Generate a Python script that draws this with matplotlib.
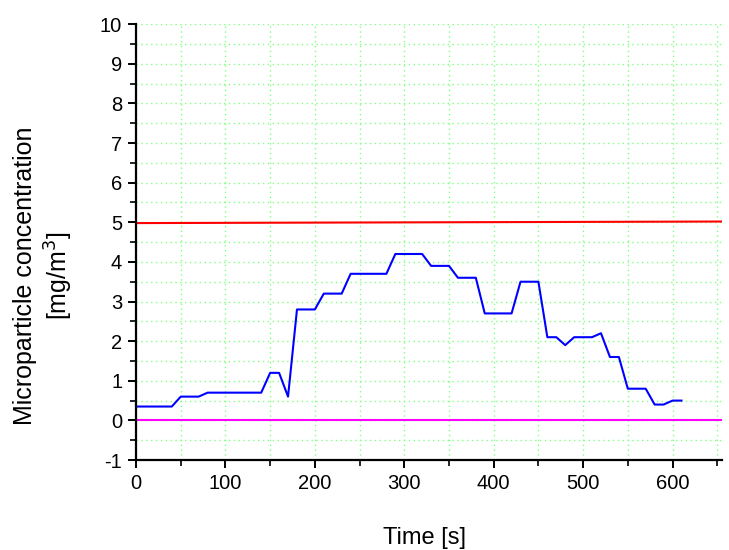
import matplotlib
matplotlib.use("Agg")
import matplotlib.pyplot as plt
from matplotlib.ticker import MultipleLocator

plt.rcParams["font.family"] = ["Liberation Sans", "DejaVu Sans"]
plt.rcParams["axes.unicode_minus"] = False

time_s = [0, 10, 20, 30, 40, 50, 60, 70, 80, 90, 100, 110, 120, 130, 140,
          150, 160, 170, 180, 190, 200, 210, 220, 230, 240, 250, 260, 270,
          280, 290, 300, 310, 320, 330, 340, 350, 360, 370, 380, 390, 400,
          410, 420, 430, 440, 450, 460, 470, 480, 490, 500, 510, 520, 530,
          540, 550, 560, 570, 580, 590, 600, 610]
concentration = [0.35, 0.35, 0.35, 0.35, 0.35, 0.6, 0.6, 0.6, 0.7, 0.7, 0.7,
                 0.7, 0.7, 0.7, 0.7, 1.2, 1.2, 0.6, 2.8, 2.8, 2.8, 3.2, 3.2,
                 3.2, 3.7, 3.7, 3.7, 3.7, 3.7, 4.2, 4.2, 4.2, 4.2, 3.9, 3.9,
                 3.9, 3.6, 3.6, 3.6, 2.7, 2.7, 2.7, 2.7, 3.5, 3.5, 3.5, 2.1,
                 2.1, 1.9, 2.1, 2.1, 2.1, 2.2, 1.6, 1.6, 0.8, 0.8, 0.8, 0.4,
                 0.4, 0.5, 0.5]

limit_x = [0, 660]
limit_y = [4.98, 5.02]
zero_x = [0, 660]
zero_y = [0, 0]

fig = plt.figure(figsize=(7.29, 5.5), dpi=100)
ax = fig.add_axes([0.1866, 0.1636, 0.8034, 0.7924])

ax.plot(zero_x, zero_y, color="#ff00ff", lw=1.5)
ax.plot(limit_x, limit_y, color="#ff0000", lw=1.5)
ax.plot(time_s, concentration, color="#0000ff", lw=1.5)

ax.set_xlim(0, 655)
ax.set_ylim(-1, 10)
ax.xaxis.set_major_locator(MultipleLocator(100))
ax.xaxis.set_minor_locator(MultipleLocator(50))
ax.yaxis.set_major_locator(MultipleLocator(1))
ax.yaxis.set_minor_locator(MultipleLocator(0.5))

ax.grid(True, which="both", color="#80ff80", linestyle=(0, (1, 2.5)), lw=1)
ax.set_axisbelow(True)

for side in ["top", "right"]:
    ax.spines[side].set_visible(False)
for side in ["left", "bottom"]:
    ax.spines[side].set_linewidth(1.6)

ax.tick_params(which="major", direction="out", length=6, width=1.4,
               labelsize=14.5, pad=4)
ax.tick_params(which="minor", direction="out", length=4, width=1.2)

ax.set_xlabel("Time [s]", fontsize=17, va="center")
ax.xaxis.set_label_coords(0.4917, -0.179)
ax.set_ylabel("Microparticle concentration\n[mg/m$^3$]", fontsize=18,
              linespacing=1.25, va="center")
ax.yaxis.set_label_coords(-0.157, 0.422)

fig.savefig("out.png", dpi=100)
